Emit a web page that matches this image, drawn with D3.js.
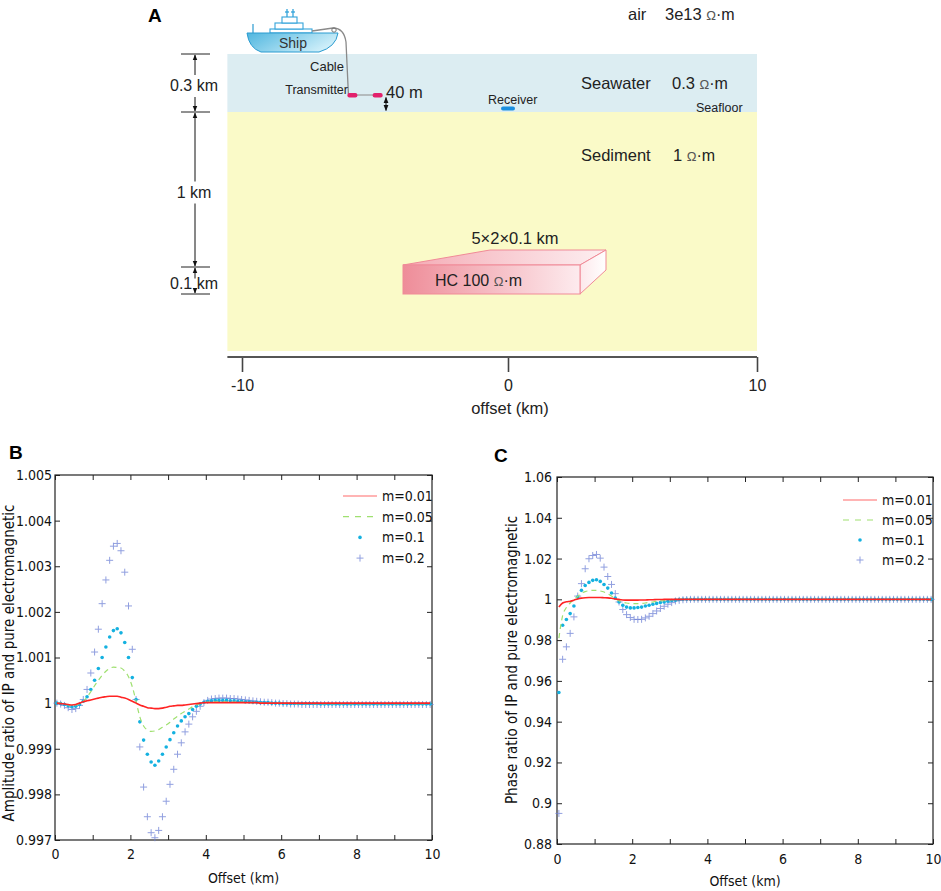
<!DOCTYPE html>
<html>
<head>
<meta charset="utf-8">
<script src="https://cdn.jsdelivr.net/npm/d3@7"></script>
<style>
  body { margin: 0; background: #fff; }
  svg { display: block; }
  text { font-family: "Liberation Sans", Arial, sans-serif; fill: #222; }
  .narrow text, text.narrow { font-family: "Liberation Sans Narrow", "DejaVu Sans Condensed", sans-serif; fill: #111; }
</style>
</head>
<body>
<svg id="fig" width="941" height="891"></svg>
<script>
// ---------- panel A: model sketch ----------
const offsetTicks = [-10, 0, 10];
const layerNames = ["Seawater", "Sediment"];
const layerRes = ["0.3", "1"];
const layerTop = [0, 0.3];
const layerBottom = [0.3, 1.77];
const dimBreaks = [0, 0.3, 1.3, 1.4];
const dimLabels = ["0.3 km", "1 km", "0.1 km"];
const txOffsets = [-5.85, -4.9];
const rxOffset = 0;

// ---------- panels B, C: IP / EM ratio ----------
const offsets = [
  0.05,0.15,0.25,0.35,0.45,0.55,0.65,0.75,0.85,0.95,
  1.05,1.15,1.25,1.35,1.45,1.55,1.65,1.75,1.85,1.95,
  2.05,2.15,2.25,2.35,2.45,2.55,2.65,2.75,2.85,2.95,
  3.05,3.15,3.25,3.35,3.45,3.55,3.65,3.75,3.85,3.95,
  4.05,4.15,4.25,4.35,4.45,4.55,4.65,4.75,4.85,4.95,
  5.05,5.15,5.25,5.35,5.45,5.55,5.65,5.75,5.85,5.95,
  6.05,6.15,6.25,6.35,6.45,6.55,6.65,6.75,6.85,6.95,
  7.05,7.15,7.25,7.35,7.45,7.55,7.65,7.75,7.85,7.95,
  8.05,8.15,8.25,8.35,8.45,8.55,8.65,8.75,8.85,8.95,
  9.05,9.15,9.25,9.35,9.45,9.55,9.65,9.75,9.85,9.95
];
const legendLabels = ["m=0.01", "m=0.05", "m=0.1", "m=0.2"];

const ampM001 = [
  1.00000,0.99999,0.99998,0.99997,0.99996,0.99997,1.00000,1.00003,1.00005,1.00007,
  1.00009,1.00011,1.00013,1.00014,1.00015,1.00015,1.00015,1.00013,1.00011,1.00008,
  1.00004,1.00000,0.99996,0.99993,0.99990,0.99989,0.99988,0.99988,0.99989,0.99991,
  0.99993,0.99994,0.99995,0.99995,0.99996,0.99997,0.99998,0.99999,1.00000,1.00001,
  1.00001,1.00001,1.00001,1.00001,1.00001,1.00001,1.00001,1.00001,1.00001,1.00001,
  1.00001,1.00001,1.00001,1.00001,1.00000,1.00000,1.00000,1.00000,1.00000,1.00000,
  1.00000,1.00000,1.00000,1.00000,1.00000,1.00000,1.00000,1.00000,1.00000,1.00000,
  1.00000,1.00000,1.00000,1.00000,1.00000,1.00000,1.00000,1.00000,1.00000,1.00000,
  1.00000,1.00000,1.00000,1.00000,1.00000,1.00000,1.00000,1.00000,1.00000,1.00000,
  1.00000,1.00000,1.00000,1.00000,1.00000,1.00000,1.00000,1.00000,1.00000,1.00000
];
const ampM005 = [
  1.00000,1.00000,0.99998,0.99996,0.99995,0.99996,0.99999,1.00004,1.00013,1.00025,
  1.00038,1.00050,1.00061,1.00070,1.00076,1.00079,1.00078,1.00077,1.00070,1.00058,
  1.00036,1.00004,0.99970,0.99950,0.99941,0.99938,0.99939,0.99942,0.99947,0.99952,
  0.99958,0.99965,0.99971,0.99977,0.99982,0.99987,0.99992,0.99996,0.99999,1.00001,
  1.00002,1.00003,1.00003,1.00003,1.00003,1.00003,1.00002,1.00002,1.00002,1.00002,
  1.00001,1.00001,1.00001,1.00001,1.00001,1.00000,1.00000,1.00000,1.00000,1.00000,
  1.00000,1.00000,1.00000,0.99999,0.99999,0.99999,0.99999,0.99999,0.99999,0.99999,
  0.99999,0.99999,0.99999,0.99999,0.99999,0.99999,0.99999,0.99999,0.99999,0.99999,
  0.99999,0.99999,0.99999,0.99999,0.99999,0.99999,0.99999,0.99999,0.99999,0.99999,
  0.99999,0.99999,0.99999,0.99999,0.99999,0.99999,0.99999,0.99999,0.99999,0.99999
];
const ampM01 = [
  1.00000,0.99999,0.99997,0.99994,0.99992,0.99993,0.99997,1.00004,1.00014,1.00030,
  1.00050,1.00076,1.00100,1.00123,1.00145,1.00159,1.00163,1.00154,1.00133,1.00100,
  1.00056,1.00008,0.99959,0.99919,0.99888,0.99871,0.99864,0.99873,0.99888,0.99904,
  0.99920,0.99935,0.99950,0.99961,0.99970,0.99977,0.99986,0.99993,0.99998,1.00002,
  1.00004,1.00005,1.00006,1.00006,1.00006,1.00006,1.00005,1.00005,1.00004,1.00004,
  1.00003,1.00003,1.00002,1.00002,1.00001,1.00001,1.00001,1.00000,1.00000,1.00000,
  0.99999,0.99999,0.99999,0.99999,0.99999,0.99999,0.99999,0.99999,0.99999,0.99999,
  0.99998,0.99998,0.99998,0.99998,0.99998,0.99998,0.99998,0.99998,0.99998,0.99998,
  0.99998,0.99998,0.99998,0.99998,0.99998,0.99998,0.99998,0.99998,0.99998,0.99998,
  0.99998,0.99998,0.99998,0.99998,0.99998,0.99998,0.99998,0.99998,0.99998,0.99998
];
const ampM02 = [
  1.00000,0.99998,0.99995,0.99990,0.99986,0.99988,0.99995,1.00008,1.00030,1.00066,
  1.00112,1.00162,1.00218,1.00270,1.00313,1.00344,1.00350,1.00334,1.00287,1.00213,
  1.00118,1.00008,0.99904,0.99816,0.99751,0.99716,0.99705,0.99721,0.99751,0.99785,
  0.99822,0.99855,0.99888,0.99913,0.99937,0.99954,0.99970,0.99982,0.99993,1.00001,
  1.00006,1.00009,1.00010,1.00011,1.00011,1.00011,1.00010,1.00010,1.00009,1.00008,
  1.00007,1.00006,1.00005,1.00004,1.00003,1.00002,1.00002,1.00001,1.00000,1.00000,
  0.99999,0.99999,0.99998,0.99998,0.99998,0.99997,0.99997,0.99997,0.99997,0.99997,
  0.99997,0.99997,0.99997,0.99997,0.99997,0.99997,0.99997,0.99997,0.99997,0.99997,
  0.99997,0.99997,0.99997,0.99997,0.99997,0.99997,0.99997,0.99997,0.99997,0.99997,
  0.99997,0.99997,0.99997,0.99997,0.99997,0.99997,0.99997,0.99997,0.99997,0.99997
];

const phM001 = [
  0.9962,0.9982,0.9988,0.9991,0.9996,1.0002,1.0006,1.0008,1.0009,1.0009,
  1.0009,1.0009,1.0008,1.0007,1.0005,1.0002,0.9999,0.9997,0.9996,0.9996,
  0.9996,0.9996,0.9997,0.9997,0.9998,0.9998,0.9999,0.9999,1.0000,1.0000,
  1.0000,1.0000,1.0000,1.0000,1.0000,1.0000,1.0000,1.0000,1.0000,1.0000,
  1.0000,1.0000,1.0000,1.0000,1.0000,1.0000,1.0000,1.0000,1.0000,1.0000,
  1.0000,1.0000,1.0000,1.0000,1.0000,1.0000,1.0000,1.0000,1.0000,1.0000,
  1.0000,1.0000,1.0000,1.0000,1.0000,1.0000,1.0000,1.0000,1.0000,1.0000,
  1.0000,1.0000,1.0000,1.0000,1.0000,1.0000,1.0000,1.0000,1.0000,1.0000,
  1.0000,1.0000,1.0000,1.0000,1.0000,1.0000,1.0000,1.0000,1.0000,1.0000,
  1.0000,1.0000,1.0000,1.0000,1.0000,1.0000,1.0000,1.0000,1.0000,1.0000
];
const phM005 = [
  0.9810,0.9920,0.9960,0.9982,1.0000,1.0015,1.0030,1.0038,1.0042,1.0044,
  1.0044,1.0041,1.0036,1.0027,1.0016,1.0004,0.9993,0.9986,0.9982,0.9980,
  0.9979,0.9979,0.9980,0.9982,0.9985,0.9987,0.9990,0.9992,0.9994,0.9996,
  0.9998,0.9999,1.0000,1.0000,1.0000,1.0000,1.0000,1.0000,1.0000,1.0000,
  1.0000,1.0000,1.0000,1.0000,1.0000,1.0000,1.0000,1.0000,1.0000,1.0000,
  1.0000,1.0000,1.0000,1.0000,1.0000,1.0000,1.0000,1.0000,1.0000,1.0000,
  1.0000,1.0000,1.0000,1.0000,1.0000,1.0000,1.0000,1.0000,1.0000,1.0000,
  1.0000,1.0000,1.0000,1.0000,1.0000,1.0000,1.0000,1.0000,1.0000,1.0000,
  1.0000,1.0000,1.0000,1.0000,1.0000,1.0000,1.0000,1.0000,1.0000,1.0000,
  1.0000,1.0000,1.0000,1.0000,1.0000,1.0000,1.0000,1.0000,1.0000,1.0000
];
const phM01 = [
  0.9543,0.9873,0.9901,0.9930,0.9967,1.0011,1.0044,1.0068,1.0083,1.0093,
  1.0096,1.0088,1.0073,1.0055,1.0031,1.0006,0.9987,0.9971,0.9962,0.9958,
  0.9958,0.9960,0.9962,0.9967,0.9971,0.9976,0.9980,0.9984,0.9987,0.9991,
  0.9994,0.9996,0.9999,1.0000,1.0000,1.0000,1.0000,1.0000,1.0000,1.0000,
  1.0000,1.0000,1.0000,1.0000,1.0000,1.0000,1.0000,1.0000,1.0000,1.0000,
  1.0000,1.0000,1.0000,1.0000,1.0000,1.0000,1.0000,1.0000,1.0000,1.0000,
  1.0000,1.0000,1.0000,1.0000,1.0000,1.0000,1.0000,1.0000,1.0000,1.0000,
  1.0000,1.0000,1.0000,1.0000,1.0000,1.0000,1.0000,1.0000,1.0000,1.0000,
  1.0000,1.0000,1.0000,1.0000,1.0000,1.0000,1.0000,1.0000,1.0000,1.0000,
  1.0000,1.0000,1.0000,1.0000,1.0000,1.0000,1.0000,1.0000,1.0000,1.0000
];
const phM02 = [
  0.8950,0.9706,0.9767,0.9833,0.9914,1.0016,1.0077,1.0150,1.0199,1.0215,
  1.0220,1.0202,1.0158,1.0112,1.0073,1.0028,0.9987,0.9950,0.9925,0.9911,
  0.9902,0.9901,0.9902,0.9909,0.9917,0.9930,0.9943,0.9955,0.9966,0.9976,
  0.9984,0.9992,0.9995,0.9998,0.9999,1.0000,1.0000,1.0000,1.0000,1.0000,
  1.0000,1.0000,1.0000,1.0000,1.0000,1.0000,1.0000,1.0000,1.0000,1.0000,
  1.0000,1.0000,1.0000,1.0000,1.0000,1.0000,1.0000,1.0000,1.0000,1.0000,
  1.0000,1.0000,1.0000,1.0000,1.0000,1.0000,1.0000,1.0000,1.0000,1.0000,
  1.0000,1.0000,1.0000,1.0000,1.0000,1.0000,1.0000,1.0000,1.0000,1.0000,
  1.0000,1.0000,1.0000,1.0000,1.0000,1.0000,1.0000,1.0000,1.0000,1.0000,
  1.0000,1.0000,1.0000,1.0000,1.0000,1.0000,1.0000,1.0000,1.0000,1.0000
];

const offsetTickVals = [0, 1, 2, 3, 4, 5, 6, 7, 8, 9, 10];
const ampTicks = [0.997, 0.998, 0.999, 1, 1.001, 1.002, 1.003, 1.004, 1.005];
const phaseTicks = [0.88, 0.9, 0.92, 0.94, 0.96, 0.98, 1, 1.02, 1.04, 1.06];

const svg = d3.select("#fig");
const defs = svg.append("defs");

function linGrad(id, stops, x2 = 1, y2 = 0) {
  const g = defs.append("linearGradient").attr("id", id)
    .attr("x1", 0).attr("y1", 0).attr("x2", x2).attr("y2", y2);
  stops.forEach(([o, c]) => g.append("stop").attr("offset", o).attr("stop-color", c));
}
linGrad("hull", [[0, "#4fb6df"], [1, "#cdeef9"]], 1, 0.4);
linGrad("hcFront", [[0, "#ee8d99"], [1, "#fdebee"]]);
linGrad("hcTop", [[0, "#f4aab4"], [1, "#fdeff1"]]);
linGrad("hcSide", [[0, "#fde8eb"], [1, "#ffffff"]]);

defs.append("marker").attr("id", "arrow")
  .attr("viewBox", "0 0 10 10").attr("refX", 9).attr("refY", 5)
  .attr("markerWidth", 6).attr("markerHeight", 6).attr("orient", "auto-start-reverse")
  .append("path").attr("d", "M0,1 L10,5 L0,9 Z").attr("fill", "#111");

// ---------- draw panel A ----------
const xA = d3.scaleLinear().domain([-10, 0, 10]).range([242, 508, 757]);
const zA = d3.scaleLinear().domain([0, 0.3, 1.3, 1.4, 1.77]).range([54, 112, 267, 294, 351]);
const layerFill = ["#dcedf2", "#fafac8"];
const gA = svg.append("g");

layerNames.forEach((name, i) => {
  gA.append("rect")
    .attr("x", xA(-10.55)).attr("width", xA(10) - xA(-10.55))
    .attr("y", zA(layerTop[i])).attr("height", zA(layerBottom[i]) - zA(layerTop[i]))
    .attr("fill", layerFill[i]);
});

function resText(x, y, val) {
  const t = gA.append("text").attr("x", x).attr("y", y).style("font-size", "16.5px");
  t.append("tspan").text(val + " ");
  t.append("tspan").text("Ω").style("font-size", "13px").style("fill", "#555");
  t.append("tspan").text("·m").style("font-size", "16px");
  return t;
}
gA.append("text").attr("x", 628).attr("y", 20).style("font-size", "16.5px").text("air");
resText(665, 20, "3e13");
gA.append("text").attr("x", 581).attr("y", 89).style("font-size", "16.5px").text(layerNames[0]);
resText(672, 89, layerRes[0]);
gA.append("text").attr("x", 581).attr("y", 161).style("font-size", "16.5px").text(layerNames[1]);
resText(673, 161, layerRes[1]);
gA.append("text").attr("x", 696).attr("y", 112).style("font-size", "12.5px").text("Seafloor");

// offset axis
const axA = gA.append("g").attr("transform", `translate(0,${zA(1.77) + 6})`)
  .call(d3.axisBottom(xA).tickValues(offsetTicks).tickSize(15).tickPadding(8).tickFormat(d => String(d)));
axA.select(".domain").remove();
axA.selectAll(".tick line").attr("stroke", "#444").attr("stroke-width", 1.6);
axA.selectAll(".tick text").style("font-size", "16px").style("fill", "#222").style("font-family", "Liberation Sans, Arial, sans-serif");
axA.append("line").attr("x1", xA(-10.55)).attr("x2", xA(10)).attr("stroke", "#555").attr("stroke-width", 2);
gA.append("text").attr("x", 510).attr("y", 414).attr("text-anchor", "middle").style("font-size", "16.5px").text("offset (km)");

// depth dimensions
const dimX = 195;
dimBreaks.forEach(d => {
  gA.append("line").attr("x1", 181).attr("x2", 210).attr("y1", zA(d)).attr("y2", zA(d))
    .attr("stroke", "#222").attr("stroke-width", 1);
});
dimLabels.forEach((lab, i) => {
  const a = zA(dimBreaks[i]), b = zA(dimBreaks[i + 1]);
  const mid = (a + b) / 2 + 3;
  const gap = (b - a) > 40 ? 11 : 5;
  gA.append("line").attr("x1", dimX).attr("x2", dimX).attr("y1", mid - gap).attr("y2", a + 1)
    .attr("stroke", "#111").attr("marker-end", "url(#arrow)");
  gA.append("line").attr("x1", dimX).attr("x2", dimX).attr("y1", mid + gap).attr("y2", b - 1)
    .attr("stroke", "#111").attr("marker-end", "url(#arrow)");
  gA.append("text").attr("x", dimX - 1).attr("y", mid + 5).attr("text-anchor", "middle")
    .style("font-size", "16px").text(lab);
});

// HC body
const fx0 = 403, fx1 = 580, fy0 = zA(1.3) - 2, fy1 = zA(1.4);
gA.append("polygon").attr("points", `${fx0},${fy0} 490,${fy0 - 15} 606,${fy0 - 15} ${fx1},${fy0}`)
  .attr("fill", "url(#hcTop)").attr("stroke", "#f08a97").attr("stroke-width", 1);
gA.append("polygon").attr("points", `${fx1},${fy0} 606,${fy0 - 15} 606,${fy1 - 24} ${fx1},${fy1}`)
  .attr("fill", "url(#hcSide)").attr("stroke", "#f08a97").attr("stroke-width", 1);
gA.append("rect").attr("x", fx0).attr("y", fy0).attr("width", fx1 - fx0).attr("height", fy1 - fy0)
  .attr("fill", "url(#hcFront)").attr("stroke", "#f08a97").attr("stroke-width", 1);
gA.append("text").attr("x", 515).attr("y", 244).attr("text-anchor", "middle").style("font-size", "16.5px").text("5×2×0.1 km");
(function () {
  const t = gA.append("text").attr("x", 435).attr("y", 286).style("font-size", "16px");
  t.append("tspan").text("HC 100 ");
  t.append("tspan").text("Ω").style("font-size", "13px").style("fill", "#555");
  t.append("tspan").text("·m");
})();

// ship
const ship = gA.append("g").attr("transform", "translate(247,0)");
ship.append("line").attr("x1", 6).attr("x2", 6).attr("y1", 24).attr("y2", 33).attr("stroke", "#2a9bd0").attr("stroke-width", 1.2);
[[23, 65, 29, 33], [28, 56, 23, 29], [35, 50, 17, 23]].forEach(([x0, x1, y0, y1]) => {
  ship.append("rect").attr("x", x0).attr("y", y0).attr("width", x1 - x0).attr("height", y1 - y0)
    .attr("fill", "#fff").attr("stroke", "#34a4da").attr("stroke-width", 1.1);
});
[40, 46].forEach(mx => {
  ship.append("line").attr("x1", mx).attr("x2", mx).attr("y1", 9).attr("y2", 17).attr("stroke", "#34a4da").attr("stroke-width", 1.3);
  ship.append("line").attr("x1", mx - 2).attr("x2", mx + 2).attr("y1", 12).attr("y2", 12).attr("stroke", "#34a4da").attr("stroke-width", 1.3);
});
ship.append("path").attr("d", "M0,33 L91,33 Q89,47 72,52 L14,52 Q2,48 0,33 Z")
  .attr("fill", "url(#hull)").attr("stroke", "#2a9bd0").attr("stroke-width", 1);
ship.append("text").attr("x", 46).attr("y", 48).attr("text-anchor", "middle").style("font-size", "14px").style("fill", "#333").text("Ship");

// cable, transmitter, receiver
gA.append("path").attr("d", `M312,31 L333,28 Q344,28 346,42 L${xA(txOffsets[0]) - 4},94`)
  .attr("fill", "none").attr("stroke", "#8a8a8a").attr("stroke-width", 1.3);
gA.append("circle").attr("cx", 334).attr("cy", 30).attr("r", 2.2).attr("fill", "none").attr("stroke", "#777");
gA.append("line").attr("x1", xA(txOffsets[0])).attr("x2", xA(txOffsets[1])).attr("y1", 95).attr("y2", 95)
  .attr("stroke", "#999").attr("stroke-width", 1.2);
txOffsets.forEach(o => {
  gA.append("rect").attr("x", xA(o) - 5).attr("y", 93).attr("width", 10).attr("height", 4.5).attr("rx", 2)
    .attr("fill", "#e2216c");
});
gA.append("rect").attr("x", xA(rxOffset) - 7).attr("y", 106.5).attr("width", 14).attr("height", 4).attr("rx", 2)
  .attr("fill", "#1b8fe0");
gA.append("text").attr("x", 348).attr("y", 94).attr("text-anchor", "end").style("font-size", "12.5px").text("Transmitter");
gA.append("text").attr("x", 327).attr("y", 71).attr("text-anchor", "middle").style("font-size", "13px").text("Cable");
gA.append("text").attr("x", 488).attr("y", 104).style("font-size", "12.5px").text("Receiver");
gA.append("text").attr("x", 386).attr("y", 98).style("font-size", "16.5px").text("40 m");
gA.append("line").attr("x1", 386).attr("x2", 386).attr("y1", 104).attr("y2", 97.5)
  .attr("stroke", "#111").attr("marker-end", "url(#arrow)");
gA.append("line").attr("x1", 386).attr("x2", 386).attr("y1", 104).attr("y2", 110.5)
  .attr("stroke", "#111").attr("marker-end", "url(#arrow)");

svg.append("text").attr("x", 148).attr("y", 22).style("font-size", "19px").style("font-weight", "bold").style("fill", "#000").text("A");

// ---------- ratio charts ----------
function ratioChart(o) {
  const g = svg.append("g").attr("class", "narrow");
  const x = d3.scaleLinear().domain([0, 10]).range([o.left, o.right]);
  const y = d3.scaleLinear().domain(o.yDomain).range([o.bottom, o.top]);
  const fmt = v => String(+v.toFixed(3));

  const axes = [
    d3.axisBottom(x).tickValues(offsetTickVals).tickFormat(d => d % 2 === 0 ? d : "").tickPadding(o.xPad),
    d3.axisTop(x).tickValues(offsetTickVals).tickFormat(""),
    d3.axisLeft(y).tickValues(o.yTicks).tickFormat(fmt).tickPadding(o.yPad),
    d3.axisRight(y).tickValues(o.yTicks).tickFormat("")
  ];
  const pos = [`0,${o.bottom}`, `0,${o.top}`, `${o.left},0`, `${o.right},0`];
  axes.forEach((ax, i) => {
    const a = g.append("g").attr("transform", `translate(${pos[i]})`)
      .call(ax.tickSizeInner(-5).tickSizeOuter(0));
    a.select(".domain").remove();
    a.selectAll(".tick line").attr("stroke", "#222");
    a.selectAll(".tick text").style("font-size", "14px").style("fill", "#111")
      .style("font-family", "Liberation Sans Narrow, DejaVu Sans Condensed, sans-serif");
  });
  g.append("rect").attr("x", o.left).attr("y", o.top)
    .attr("width", o.right - o.left).attr("height", o.bottom - o.top)
    .attr("fill", "none").attr("stroke", "#222").attr("stroke-width", 1.2);

  const plot = g.append("g");
  const pts = vals => offsets.map((d, i) => [d, vals[i]]);
  const plusPath = "M-3.5,0H3.5M0,-3.5V3.5";

  plot.selectAll(".plus").data(pts(o.series[3])).join("path")
    .attr("transform", d => `translate(${x(d[0])},${y(d[1])})`)
    .attr("d", plusPath).attr("stroke", "#6d80d6").attr("stroke-width", 1).attr("opacity", 0.75);
  plot.selectAll(".dot").data(pts(o.series[2])).join("circle")
    .attr("cx", d => x(d[0])).attr("cy", d => y(d[1])).attr("r", 1.8).attr("fill", "#14b1e0");
  const line = d3.line().x(d => x(d[0])).y(d => y(d[1])).curve(d3.curveMonotoneX);
  plot.append("path").attr("d", line(pts(o.series[1]))).attr("fill", "none")
    .attr("stroke", "#9fe070").attr("stroke-width", 1.2).attr("stroke-dasharray", "5,4");
  plot.append("path").attr("d", line(pts(o.series[0]))).attr("fill", "none")
    .attr("stroke", "#ff2424").attr("stroke-width", 1.6);

  // legend
  const lg = g.append("g");
  legendLabels.forEach((lab, i) => {
    const ly = o.legY + i * o.legStep;
    const lx0 = o.legX, lx1 = o.legX + 34, lc = (lx0 + lx1) / 2;
    if (i === 0) lg.append("line").attr("x1", lx0).attr("x2", lx1).attr("y1", ly).attr("y2", ly).attr("stroke", "#ff6a6a").attr("stroke-width", 1.2);
    if (i === 1) lg.append("line").attr("x1", lx0).attr("x2", lx1).attr("y1", ly).attr("y2", ly).attr("stroke", "#9fe070").attr("stroke-width", 1.2).attr("stroke-dasharray", "6,6");
    if (i === 2) lg.append("circle").attr("cx", lc).attr("cy", ly).attr("r", 1.8).attr("fill", "#14b1e0");
    if (i === 3) lg.append("path").attr("transform", `translate(${lc},${ly})`).attr("d", plusPath).attr("stroke", "#6d80d6").attr("opacity", 0.75);
    lg.append("text").attr("x", lx1 + 5).attr("y", ly).attr("dy", "0.35em").style("font-size", "14px").text(lab);
  });

  g.append("text").attr("x", (o.left + o.right) / 2).attr("y", o.xLabelY).attr("text-anchor", "middle")
    .style("font-size", "14px").text("Offset (km)");
  g.append("text").attr("transform", `translate(${o.yLabelX},${o.yLabelY}) rotate(-90)`)
    .attr("text-anchor", "middle").style("font-size", "15px").text(o.yLabel);
  svg.append("text").attr("x", o.panelX).attr("y", o.panelY).style("font-size", "19px")
    .style("font-weight", "bold").style("fill", "#000").text(o.panel);
}

ratioChart({
  left: 55, right: 432, top: 475, bottom: 840,
  yDomain: [0.997, 1.005], yTicks: ampTicks, xPad: 9, yPad: 3,
  series: [ampM001, ampM005, ampM01, ampM02],
  legX: 343, legY: 496, legStep: 20.7,
  xLabelY: 883, yLabelX: 14, yLabelY: 663,
  yLabel: "Amplitude ratio of IP and pure electromagnetic",
  panel: "B", panelX: 9, panelY: 459
});
ratioChart({
  left: 557, right: 933, top: 477, bottom: 844,
  yDomain: [0.88, 1.06], yTicks: phaseTicks, xPad: 10, yPad: 5,
  series: [phM001, phM005, phM01, phM02],
  legX: 843, legY: 500, legStep: 20,
  xLabelY: 886, yLabelX: 517, yLabelY: 660,
  yLabel: "Phase ratio of IP and pure electromagnetic",
  panel: "C", panelX: 494, panelY: 462
});
</script>
</body>
</html>
